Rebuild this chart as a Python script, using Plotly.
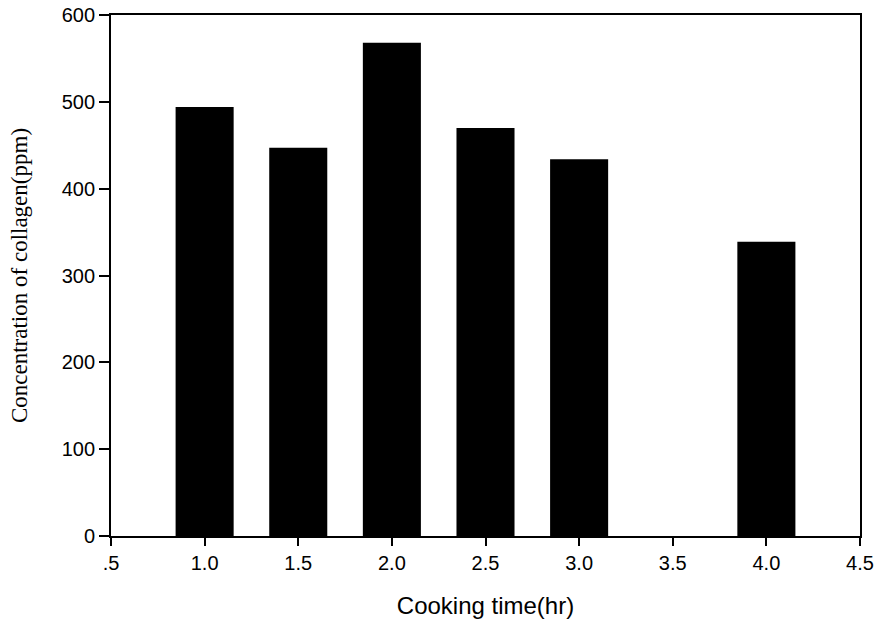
import plotly.graph_objects as go

cooking_time = [1.0, 1.5, 2.0, 2.5, 3.0, 4.0]
collagen_ppm = [494, 447, 568, 470, 434, 339]
x_ticks = [0.5, 1.0, 1.5, 2.0, 2.5, 3.0, 3.5, 4.0, 4.5]
x_tick_labels = [".5", "1.0", "1.5", "2.0", "2.5", "3.0", "3.5", "4.0", "4.5"]
y_ticks = [0, 100, 200, 300, 400, 500, 600]

fig = go.Figure(go.Bar(
    x=cooking_time, y=collagen_ppm, width=0.31,
    marker=dict(color="black", line=dict(width=0)),
))

fig.update_layout(
    width=879, height=626,
    margin=dict(l=111, r=19, t=15, b=90, autoexpand=False),
    paper_bgcolor="white", plot_bgcolor="white",
    showlegend=False,
    font=dict(family="Liberation Sans, Arial, sans-serif", size=20, color="black"),
)
fig.update_xaxes(
    range=[0.5, 4.5], tickvals=x_ticks, ticktext=x_tick_labels,
    tickfont=dict(size=20), ticklabeloverflow="allow",
    ticks="outside", ticklen=8, tickwidth=1.5, tickcolor="black",
    showline=True, linecolor="black", linewidth=1.8, mirror=True,
    showgrid=False, zeroline=False, automargin=False,
    title=dict(text="Cooking time(hr)", font=dict(size=24), standoff=24),
)
fig.update_yaxes(
    range=[0, 600], tickvals=y_ticks,
    tickfont=dict(size=20), ticklabeloverflow="allow",
    ticks="outside", ticklen=10, tickwidth=1.5, tickcolor="black",
    showline=True, linecolor="black", linewidth=1.8, mirror=True,
    showgrid=False, zeroline=False, automargin=False,
    title=dict(text="Concentration of collagen(ppm)",
               font=dict(family="Liberation Serif, Times New Roman, serif", size=23),
               standoff=28),
)

fig.write_html(
    "out.html",
    config={"displayModeBar": False},
    post_script="document.body.style.margin='0';document.body.style.overflow='hidden';",
)
